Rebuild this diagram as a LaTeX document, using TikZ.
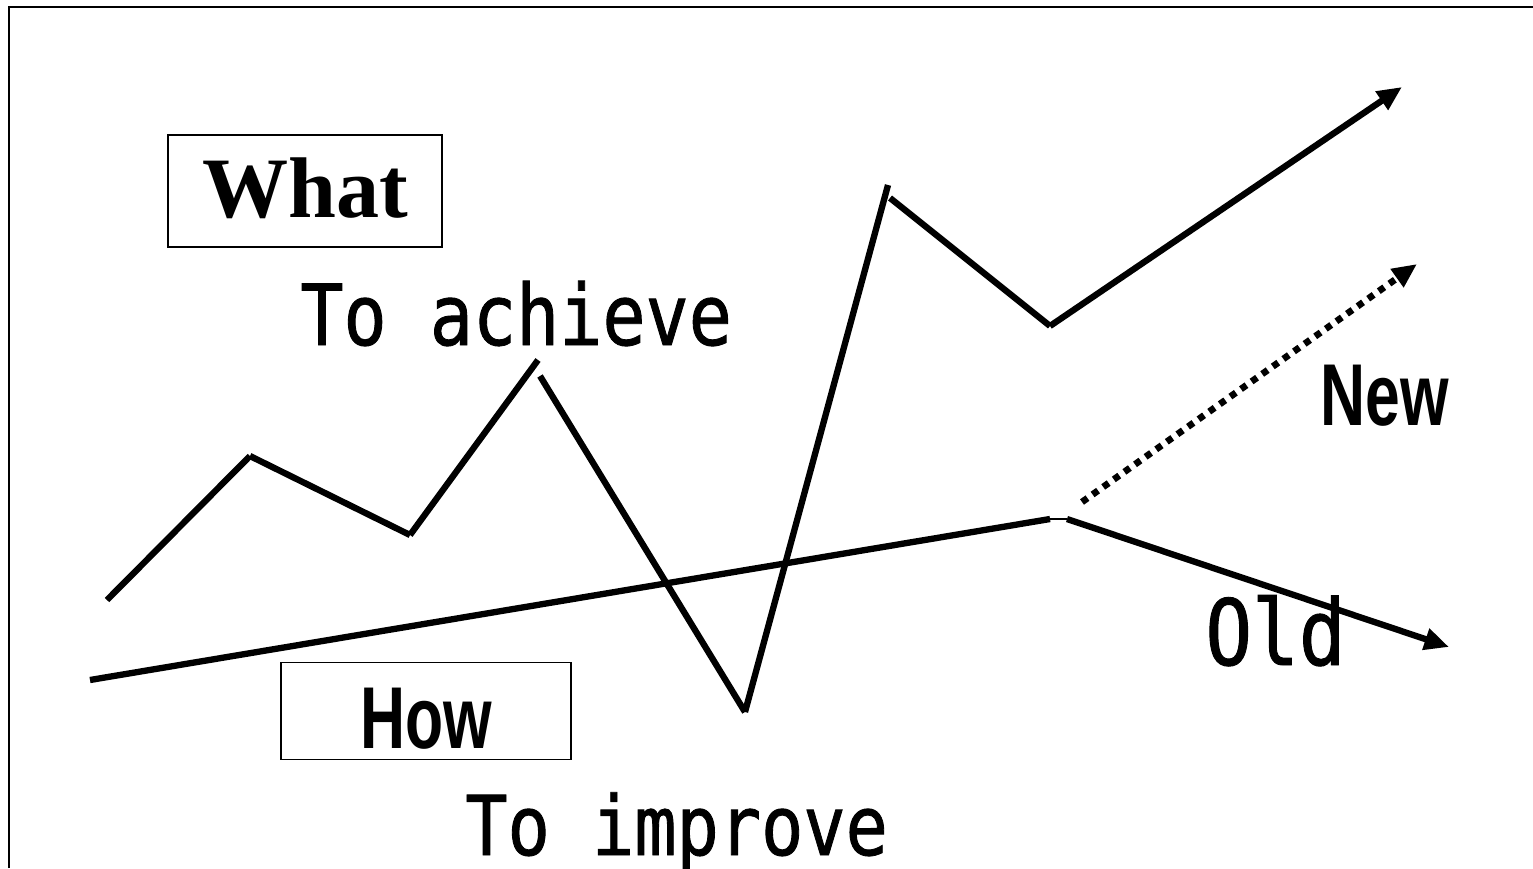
\documentclass[tikz,border=0pt]{standalone}
\usepackage{fontspec}
\setmainfont{Liberation Serif}
\newfontfamily\gothic[FakeStretch=0.85,FakeBold=1]{DejaVu Sans Mono}
\newfontfamily\gothicbold[FakeStretch=0.71]{Liberation Sans Bold}
\usetikzlibrary{arrows.meta}

\begin{document}
\begin{tikzpicture}[x=0.02cm,y=-0.02cm,
    thickline/.style={line width=3.6pt},
    tip/.style={-{Triangle[length=14pt,width=12pt]}},
    labelbox/.style={draw,line width=0.8pt,inner sep=0pt}]

\useasboundingbox (0,0) rectangle (1533,868);

% frame
\draw[line width=1.2pt] (9,868) -- (9,7) -- (1533,7);

% zigzag path
\coordinate (z0) at (107,600);
\coordinate (z1) at (250,456);
\coordinate (z2) at (410,535);
\coordinate (z3) at (538,360);
\coordinate (z3b) at (540,376);
\coordinate (z4) at (745,712);
\coordinate (z5) at (888,185);
\coordinate (z5b) at (890,198);
\coordinate (z6) at (1050,326);
\coordinate (z7) at (1402,87);

\draw[thickline] (z0) -- (z1);
\draw[thickline] (z1) -- (z2);
\draw[thickline] (z2) -- (z3);
\draw[thickline] (z3b) -- (z4);
\draw[thickline] (z4) -- (z5);
\draw[thickline] (z5b) -- (z6);
\draw[thickline,tip] (z6) -- (z7);

% straight path and the two branches
\coordinate (s0) at (90,680);
\coordinate (s1) at (1050,519);
\coordinate (s2) at (1067,519);
\coordinate (old) at (1449,647);
\coordinate (n0) at (1082,502);
\coordinate (new) at (1417,264);

\draw[thickline] (s0) -- (s1);
\draw[line width=1.2pt] (s1) -- (s2);
\draw[thickline,tip] (s2) -- (old);
\draw[line width=3.8pt,dash pattern=on 3.8pt off 3.6pt,tip] (n0) -- (new);

% labels
\node[labelbox,minimum width=5.48cm,minimum height=2.24cm] (whatbox) at (305,191) {};
\node[anchor=base] (what) at (305,217)
    {\fontsize{49}{50}\selectfont\bfseries What};
\node[anchor=base west,inner sep=0pt] (achieve) at (300,345)
    {\gothic\fontsize{48}{50}\selectfont To achieve};

\node[labelbox,minimum width=5.8cm,minimum height=1.94cm] (howbox) at (426,711) {};
\node[anchor=base] (how) at (426,748)
    {\gothicbold\fontsize{50}{52}\selectfont How};
\node[anchor=base west,inner sep=0pt] (improve) at (465,855)
    {\gothic\fontsize{47}{50}\selectfont To improve};

\node[anchor=base west,inner sep=0pt] (newlabel) at (1320,425)
    {\gothicbold\fontsize{50}{52}\selectfont New};
\node[anchor=base west,inner sep=0pt] (oldlabel) at (1205,665)
    {\gothic\fontsize{52}{54}\selectfont Old};

\end{tikzpicture}
\end{document}
